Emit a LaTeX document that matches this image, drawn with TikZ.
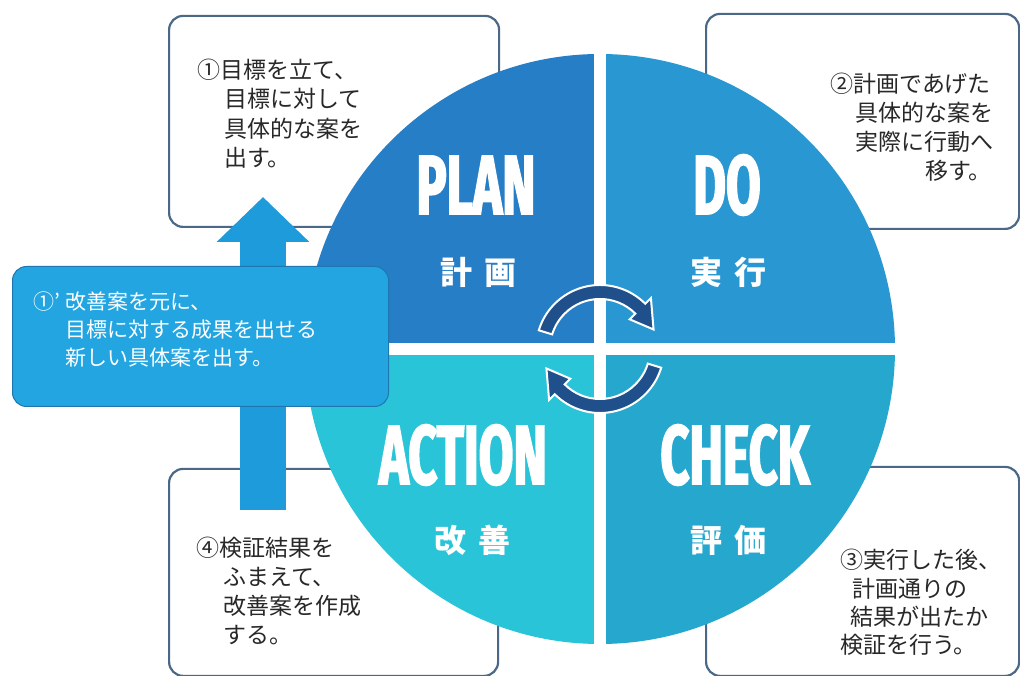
\documentclass[tikz,border=0pt]{standalone}
\usepackage{fontspec}
\newfontfamily\jp{Noto Sans CJK JP}
\newfontfamily\bigfont{Fira Sans}[FakeStretch=0.6, BoldFeatures={FakeBold=2}]
\usetikzlibrary{calc,arrows.meta}
\definecolor{planc}{RGB}{38,126,198}
\definecolor{doc}{RGB}{41,152,210}
\definecolor{actc}{RGB}{42,196,216}
\definecolor{chkc}{RGB}{38,168,206}
\definecolor{upc}{RGB}{30,155,218}
\definecolor{callc}{RGB}{34,165,225}
\definecolor{callline}{RGB}{30,120,175}
\definecolor{boxline}{RGB}{75,105,135}
\definecolor{cycc}{RGB}{32,80,140}
\definecolor{txt}{RGB}{40,40,40}
\begin{document}
\begin{tikzpicture}[x=1pt,y=1pt,
  infobox/.style={draw=boxline, line width=2.2pt, rounded corners=14pt, fill=white, inner sep=0pt, anchor=south west},
  jtxt/.style={anchor=west, inner sep=0pt, text height=20pt, text depth=3pt, text=txt, font=\jp\fontsize{23}{28}\selectfont},
  ctxt/.style={anchor=west, inner sep=0pt, text height=18.5pt, text depth=2.5pt, text=white, font=\jp\fontsize{21}{26}\selectfont},
  biglab/.style={inner sep=0pt, text=white, font=\bigfont\bfseries\fontsize{84}{90}\selectfont},
  jlab/.style={inner sep=0pt, text=white, font=\jp\bfseries\fontsize{32}{36}\selectfont},
  bigarrow/.style={draw=upc, line width=46pt, -{Triangle[width=90pt,length=45pt]}},
  cyc/.style={fill=cycc, draw=white, line width=2pt},
  callbox/.style={fill=callc, draw=callline, line width=1pt, rounded corners=14pt, inner sep=0pt, anchor=south west}]
\useasboundingbox (0,0) rectangle (1020,675);
\fill[white] (0,0) rectangle (1020,675);

% boxes
\node[infobox, minimum width=330pt, minimum height=211pt] (box1) at (168,447) {};
\node[infobox, minimum width=313pt, minimum height=215pt] (box2) at (705,445) {};
\node[infobox, minimum width=329pt, minimum height=207pt] (box3) at (168,-2) {};
\node[infobox, minimum width=313pt, minimum height=209pt] (box4) at (705,-2) {};

% box texts
\node[jtxt] (t11) at (197,605) {①目標を立て、};
\node[jtxt] (t12) at (224,576) {目標に対して};
\node[jtxt] (t13) at (224,546) {具体的な案を};
\node[jtxt] (t14) at (224,517) {出す。};

\node[jtxt] (t21) at (830,591) {②計画であげた};
\node[jtxt] (t22) at (855,562) {具体的な案を};
\node[jtxt] (t23) at (855,533) {実際に行動へ};
\node[jtxt] (t24) at (925,504) {移す。};

\node[jtxt] (t41) at (196,127) {④検証結果を};
\node[jtxt] (t42) at (223,98) {ふまえて、};
\node[jtxt] (t43) at (223,69) {改善案を作成};
\node[jtxt] (t44) at (223,40) {する。};

\node[jtxt] (t31) at (840,115) {③実行した後、};
\node[jtxt] (t32) at (852,86) {計画通りの};
\node[jtxt] (t33) at (850,58) {結果が出たか};
\node[jtxt] (t34) at (840,30) {検証を行う。};

% up arrow
\coordinate (arrS) at (263,165);
\coordinate (arrE) at (263,478);
\draw[bigarrow] (arrS) -- (arrE);

% circle quadrants
\coordinate (C) at (600,326);
\fill[planc] (C) -- ++(180:295pt) arc[start angle=180, end angle=90, radius=295pt] -- cycle;
\fill[doc] (C) -- ++(90:295pt) arc[start angle=90, end angle=0, radius=295pt] -- cycle;
\fill[chkc] (C) -- ++(0:295pt) arc[start angle=0, end angle=-90, radius=295pt] -- cycle;
\fill[actc] (C) -- ++(-90:295pt) arc[start angle=-90, end angle=-180, radius=295pt] -- cycle;
\draw[white, line width=12pt] ($(C)+(-300pt,0)$) -- ($(C)+(300pt,0)$);
\draw[white, line width=12pt] ($(C)+(0,-300pt)$) -- ($(C)+(0,300pt)$);

% labels
\node[biglab] (plan) at (476,490) {PLAN};
\node[biglab] (do) at (727,490) {DO};
\node[biglab] (action) at (463,220) {ACTION};
\node[biglab] (check) at (735,220) {CHECK};
\node[jlab] (jplan) at (478,403) {計\hspace{12pt}画};
\node[jlab] (jdo) at (728,403) {実\hspace{12pt}行};
\node[jlab] (jact) at (472,135) {改\hspace{12pt}善};
\node[jlab] (jchk) at (728,135) {評\hspace{12pt}価};

% cycle arrows
\path[cyc] ($(C)+(163:64pt)$) arc[start angle=163, end angle=45, radius=64pt]
  -- ($(C)+(45:72pt)$) -- ($(C)+(20:57pt)$) -- ($(C)+(45:42pt)$) -- ($(C)+(45:50pt)$)
  arc[start angle=45, end angle=163, radius=50pt] -- cycle;
\begin{scope}[rotate around={180:(C)}]
\path[cyc] ($(C)+(163:64pt)$) arc[start angle=163, end angle=45, radius=64pt]
  -- ($(C)+(45:72pt)$) -- ($(C)+(20:57pt)$) -- ($(C)+(45:42pt)$) -- ($(C)+(45:50pt)$)
  arc[start angle=45, end angle=163, radius=50pt] -- cycle;
\end{scope}

% callout
\node[callbox, minimum width=376pt, minimum height=140pt] (call) at (12,268) {};
\node[ctxt] (c1) at (33,373) {①’\hspace{5pt}改善案を元に、};
\node[ctxt] (c2) at (65,345) {目標に対する成果を出せる};
\node[ctxt] (c3) at (65,317) {新しい具体案を出す。};
\end{tikzpicture}
\end{document}
